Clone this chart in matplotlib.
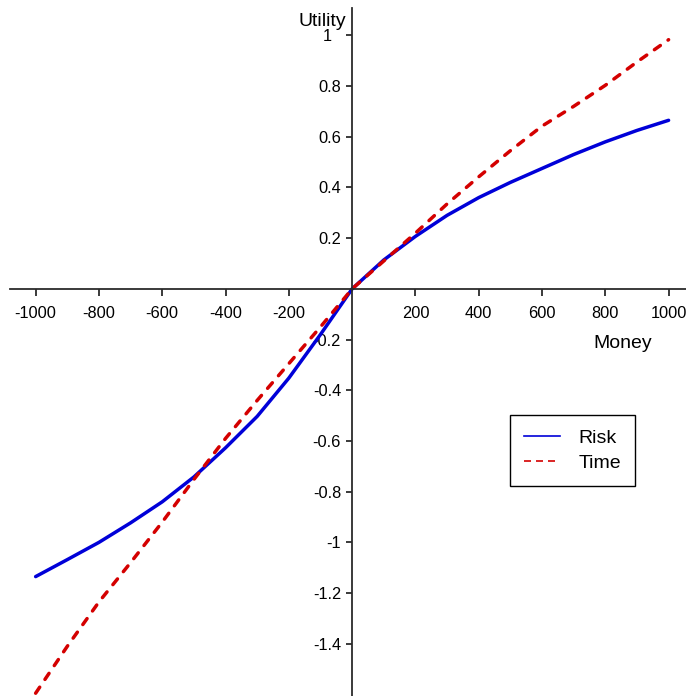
import matplotlib.pyplot as plt
from matplotlib.lines import Line2D

# values
money = [-1000, -900, -800, -700, -600, -500, -400, -300, -200, -100, 0,
         100, 200, 300, 400, 500, 600, 700, 800, 900, 1000]
risk = [-1.135, -1.068, -1.0, -0.923, -0.84, -0.742, -0.627, -0.503, -0.352, -0.18, 0.0,
        0.114, 0.207, 0.29, 0.36, 0.42, 0.475, 0.53, 0.58, 0.625, 0.665]
time = [-1.595, -1.41, -1.235, -1.08, -0.92, -0.752, -0.59, -0.44, -0.295, -0.15, 0.0,
        0.11, 0.22, 0.335, 0.442, 0.545, 0.642, 0.72, 0.803, 0.895, 0.983]

xticks = [-1000, -800, -600, -400, -200, 200, 400, 600, 800, 1000]
yticks = [-1.4, -1.2, -1.0, -0.8, -0.6, -0.4, -0.2, 0.2, 0.4, 0.6, 0.8, 1.0]
yticklabels = ["-1.4", "-1.2", "-1", "-0.8", "-0.6", "-0.4", "-0.2",
               "0.2", "0.4", "0.6", "0.8", "1  "]

blue = "#0000d8"
red = "#d40000"
axis_color = "#2b2b2b"

plt.rcParams["font.family"] = ["Liberation Sans", "DejaVu Sans"]

fig = plt.figure(figsize=(6.86, 6.96), dpi=100)
ax = fig.add_axes([10 / 686, 0, 676 / 686, 688 / 696])

ax.plot(money, risk, color=blue, lw=2.5, solid_capstyle="round",
        solid_joinstyle="round")
ax.plot(money, time, color=red, lw=2.5, linestyle=(0, (2.1, 2.7)),
        dash_capstyle="round")

ax.set_xlim(-1081, 1055)
ax.set_ylim(-1.606, 1.108)

# axes crossing at the origin
ax.spines["left"].set_position(("data", 0))
ax.spines["bottom"].set_position(("data", 0))
ax.spines["top"].set_visible(False)
ax.spines["right"].set_visible(False)
for s in ["left", "bottom"]:
    ax.spines[s].set_color(axis_color)
    ax.spines[s].set_linewidth(1.3)
ax.set_axisbelow(True)

ax.set_xticks(xticks)
ax.set_xticklabels([str(v) for v in xticks])
ax.set_yticks(yticks)
ax.set_yticklabels(yticklabels)
ax.tick_params(axis="x", direction="out", length=5, width=1.3, pad=7,
               labelsize=11.8, color=axis_color)
ax.tick_params(axis="y", direction="out", length=4.5, width=1.3, pad=3.5,
               labelsize=11.8, color=axis_color)

ax.text(-19, 1.0375, "Utility", ha="right", va="baseline", fontsize=14)
ax.text(761, -0.234, "Money", ha="left", va="baseline", fontsize=14)

handles = [Line2D([], [], color=blue, lw=1.2),
           Line2D([], [], color=red, lw=1.2, linestyle=(0, (4.2, 3.0)))]
leg = ax.legend(handles, ["Risk", "Time"], loc="upper right",
                bbox_to_anchor=(635 / 686, 1 - 415 / 696),
                bbox_transform=fig.transFigure, borderaxespad=0,
                fontsize=14, fancybox=False, framealpha=1,
                edgecolor="black", handlelength=1.86, handletextpad=0.93,
                borderpad=0.72, labelspacing=0.4)
leg.get_frame().set_linewidth(1.0)

fig.savefig("out.png", dpi=100)
